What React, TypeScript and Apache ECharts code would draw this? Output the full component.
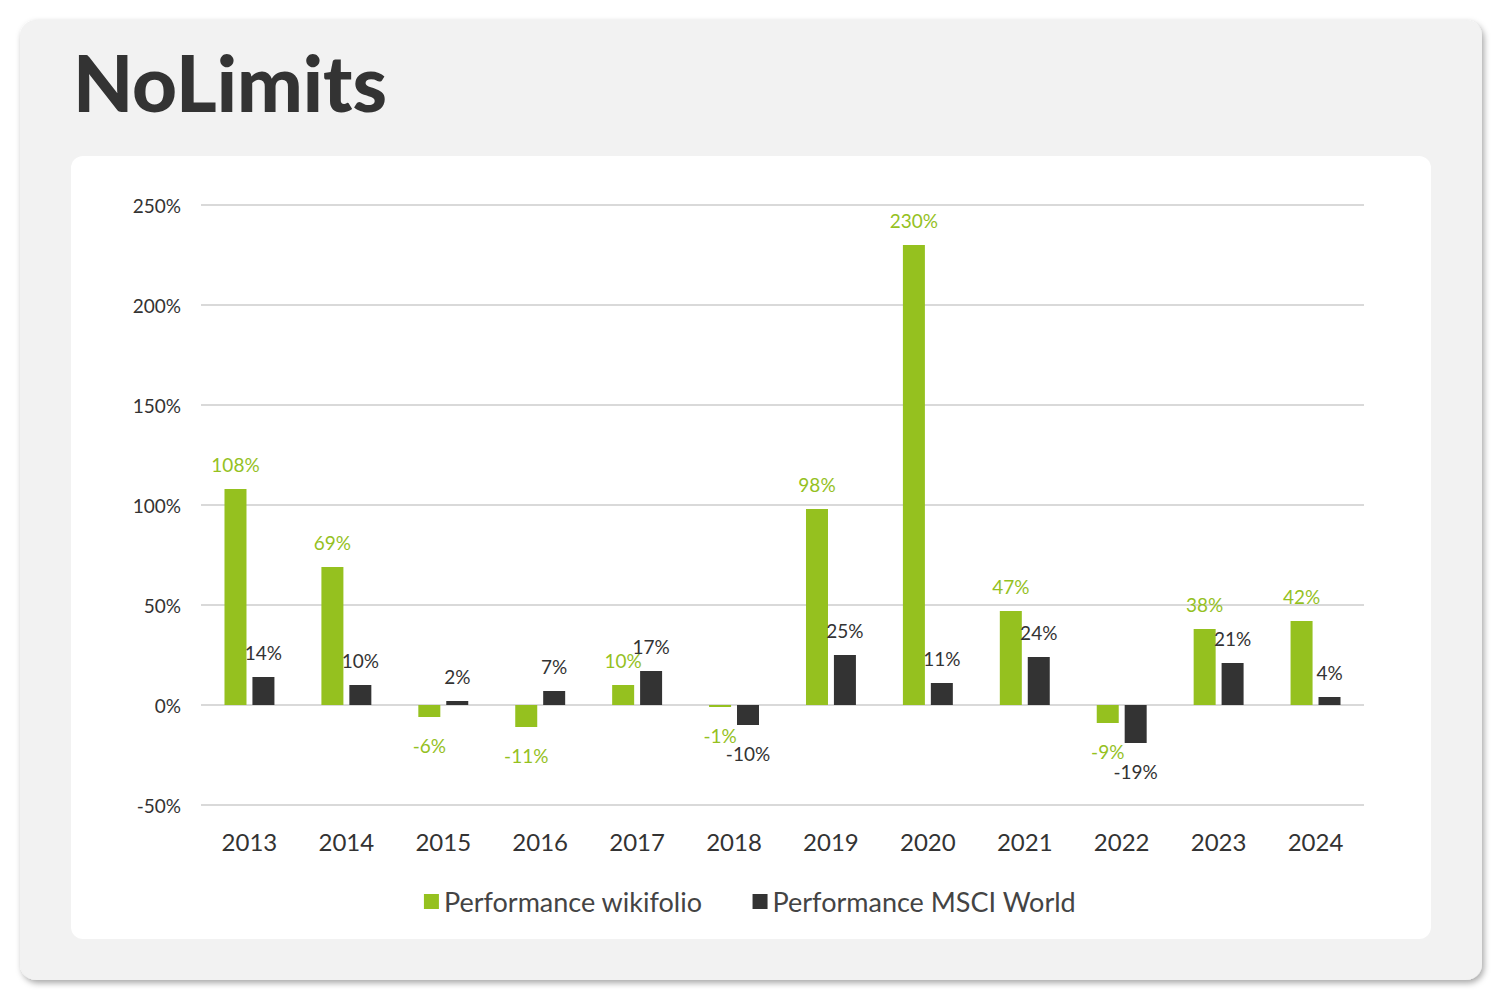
import React, { useEffect, useRef } from "react";
import * as echarts from "echarts";

const years = ["2013", "2014", "2015", "2016", "2017", "2018", "2019", "2020", "2021", "2022", "2023", "2024"];
const wikifolio = [108, 69, -6, -11, 10, -1, 98, 230, 47, -9, 38, 42];
const msciWorld = [14, 10, 2, 7, 17, -10, 25, 11, 24, -19, 21, 4];
const seriesNames = ["Performance wikifolio", "Performance MSCI World"];
const titleText = "NoLimits";

const GREEN = "#95C11F";
const DARK = "#333333";
const FONT = "Lato, 'Noto Sans', sans-serif";

function toItems(values: number[], color: string) {
  return values.map((v) => ({
    value: v,
    label: {
      show: true,
      position: v >= 0 ? "top" : "bottom",
      distance: v >= 0 ? 15 : 19,
      formatter: "{c}%",
      color,
      fontSize: 19,
      fontFamily: FONT,
    },
  }));
}

export default function App() {
  const ref = useRef<HTMLDivElement>(null);
  useEffect(() => {
    if (!ref.current) return;
    const chart = echarts.init(ref.current, undefined, { renderer: "svg" });
    chart.setOption({
      animation: false,
      backgroundColor: "#ffffff",
      graphic: [
        {
          type: "rect",
          z: -10,
          shape: { x: 20, y: 20, width: 1462, height: 960, r: 16 },
          style: {
            fill: "#f2f2f2",
            shadowBlur: 6,
            shadowOffsetX: 2,
            shadowOffsetY: 3,
            shadowColor: "rgba(0,0,0,0.35)",
          },
        },
        {
          type: "rect",
          z: -9,
          shape: { x: 71, y: 156, width: 1360, height: 783, r: 12 },
          style: { fill: "#ffffff" },
        },
        {
          type: "text",
          z: 5,
          x: 73,
          y: 43,
          style: {
            text: titleText,
            fontSize: 78,
            fontWeight: 900,
            fontFamily: FONT,
            fill: "#333333",
          },
        },
      ],
      grid: { left: 201, right: 136, top: 205, bottom: 195, containLabel: false },
      legend: {
        data: seriesNames,
        left: "center",
        top: 883,
        itemWidth: 15,
        itemHeight: 15,
        itemGap: 50,
        icon: "rect",
        textStyle: { fontSize: 27, color: "#444444", fontFamily: FONT },
      },
      xAxis: {
        type: "category",
        data: years,
        axisLine: { show: false },
        axisTick: { show: false },
        axisLabel: { fontSize: 24, color: "#333333", margin: 24, fontFamily: FONT },
      },
      yAxis: {
        type: "value",
        min: -50,
        max: 250,
        interval: 50,
        axisLine: { show: false },
        axisTick: { show: false },
        axisLabel: { formatter: "{value}%", fontSize: 19, color: "#333333", margin: 20, fontFamily: FONT },
        splitLine: { lineStyle: { color: "#d9d9d9", width: 2 } },
      },
      series: [
        {
          name: seriesNames[0],
          type: "bar",
          barWidth: 22,
          barGap: "27%",
          itemStyle: { color: GREEN },
          data: toItems(wikifolio, GREEN),
        },
        {
          name: seriesNames[1],
          type: "bar",
          barWidth: 22,
          barGap: "27%",
          itemStyle: { color: DARK },
          data: toItems(msciWorld, DARK),
        },
      ],
    });
    return () => chart.dispose();
  }, []);
  return <div ref={ref} style={{ position: "fixed", left: 0, top: 0, width: 1500, height: 1000 }} />;
}
